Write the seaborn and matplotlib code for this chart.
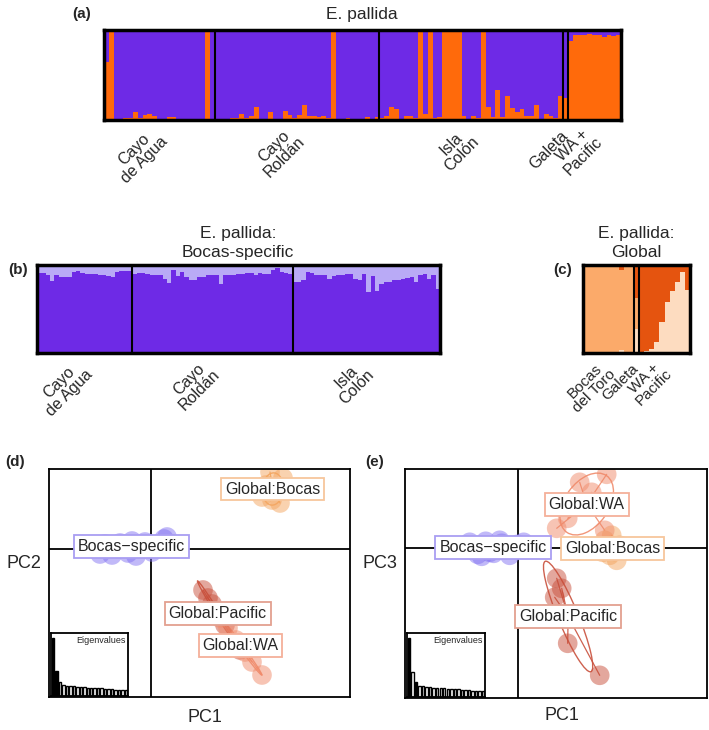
import numpy as np
import pandas as pd
import seaborn as sns
import matplotlib.pyplot as plt
from matplotlib.patches import Ellipse

W, H = 709, 730
sns.set_theme(style='white')
plt.rcParams['font.family'] = ['Liberation Sans', 'DejaVu Sans']

# ---- (a) E. pallida: orange share per individual
agua_a = [0.65, 1.0, 0.0, 0.01, 0.02, 0.02, 0.09, 0.02, 0.06, 0.07, 0.04, 0.01,
          0.01, 0.03, 0.03, 0.01, 0.01, 0.0, 0.01, 0.0, 0.0, 1.0, 0.01]
roldan_a = [0.01, 0.01, 0.0, 0.02, 0.02, 0.065, 0.02, 0.05, 0.15, 0.0, 0.01, 0.09,
            0.0, 0.0, 0.1, 0.06, 0.02, 0.06, 0.17, 0.04, 0.05, 0.03, 0.05, 0.02,
            1.0, 0.01, 0.01, 0.02, 0.0, 0.0, 0.0, 0.03, 0.0, 0.03]
colon_a = [0.02, 0.04, 0.14, 0.12, 0.0, 0.04, 0.04, 0.02, 1.0, 0.07, 1.0, 0.02,
           0.03, 1.0, 1.0, 1.0, 1.0, 0.05, 0.0, 0.05, 0.02, 1.0, 0.15, 0.03,
           0.33, 0.03, 0.27, 0.13, 0.09, 0.12, 0.05, 0.05, 0.17, 0.0, 0.07, 0.05,
           0.02, 0.27]
galeta_a = [0.25]
wapac_a = [0.88, 0.94, 0.95, 0.94, 0.96, 0.95, 0.94, 0.92, 0.94, 0.93, 0.94]
groups_a = ['Cayo\nde Agua', 'Cayo\nRoldán', 'Isla\nColón', 'Galeta', 'WA +\nPacific']

# ---- (b) Bocas-specific: light purple share
agua_b = [0.086, 0.086, 0.118, 0.184, 0.118, 0.137, 0.137, 0.137, 0.078, 0.067, 0.086,
          0.098, 0.106, 0.106, 0.118, 0.118, 0.125, 0.137, 0.078, 0.071, 0.071, 0.071]
roldan_b = [0.098, 0.086, 0.086, 0.098, 0.11, 0.11, 0.11, 0.157, 0.204, 0.059, 0.125,
            0.078, 0.137, 0.176, 0.176, 0.137, 0.137, 0.118, 0.118, 0.118, 0.216, 0.118,
            0.118, 0.11, 0.098, 0.098, 0.086, 0.086, 0.118, 0.09, 0.098, 0.098,
            0.059, 0.03, 0.078, 0.086, 0.098]
colon_b = [0.196, 0.188, 0.176, 0.078, 0.086, 0.11, 0.118, 0.118, 0.157, 0.125, 0.118,
           0.11, 0.098, 0.098, 0.157, 0.165, 0.098, 0.31, 0.125, 0.29, 0.216, 0.196,
           0.196, 0.176, 0.165, 0.157, 0.149, 0.137, 0.196, 0.118, 0.098, 0.157,
           0.118, 0.275]
groups_b = ['Cayo\nde Agua', 'Cayo\nRoldán', 'Isla\nColón']

# ---- (c) Global: pale (bottom) and dark (top) shares, light orange in between
bocas_c_pale = [0, 0, 0, 0, 0, 0, 0, 0.03, 0, 0]
bocas_c_dark = [0, 0, 0, 0, 0, 0, 0, 0.06, 0, 0]
galeta_c_pale = [0.27]
galeta_c_dark = [0.37]
wapac_c_pale = [0.0, 0.02, 0.05, 0.13, 0.35, 0.58, 0.71, 0.81, 0.92, 0.72]
wapac_c_dark = [1.0, 0.98, 0.95, 0.87, 0.65, 0.42, 0.29, 0.19, 0.08, 0.28]
groups_c = ['Bocas\ndel Toro', 'Galeta', 'WA +\nPacific']

# ---- (d) PCA, PC1 vs PC2
d_specific_x = [-0.56, -0.51, -0.46, -0.39, -0.31, -0.23, -0.19, -0.15, -0.06, 0.01, 0.07, 0.13, 0.16]
d_specific_y = [0.02, -0.05, 0.05, -0.06, 0.06, -0.04, 0.08, -0.07, 0.07, -0.03, 0.05, 0.1, 0.12]
d_bocas_x = [1.11, 1.21, 1.29, 1.32, 1.19, 1.26, 1.15]
d_bocas_y = [0.52, 0.49, 0.46, 0.71, 0.77, 0.61, 0.64]
d_pacific_x = [0.52, 0.57, 0.61, 0.74, 0.89]
d_pacific_y = [-0.41, -0.49, -0.55, -0.76, -1.01]
d_wa_x = [0.69, 0.77, 0.85, 0.94, 1.01, 1.11]
d_wa_y = [-0.69, -0.79, -0.91, -1.03, -1.13, -1.26]

# ---- (e) PCA, PC1 vs PC3
e_specific_x = [-0.48, -0.40, -0.32, -0.24, -0.16, -0.08, 0.0, 0.06, -0.28, -0.18, -0.36, -0.53]
e_specific_y = [0.06, -0.06, 0.07, -0.05, 0.05, -0.07, 0.04, 0.06, -0.04, 0.08, -0.08, 0.03]
e_bocas_x = [0.87, 0.94, 1.02, 0.92, 0.99, 0.85, 1.07]
e_bocas_y = [0.08, 0.13, 0.03, -0.07, -0.12, -0.04, -0.02]
e_wa_x = [0.62, 0.89, 0.39, 0.82, 0.74, 0.50, 0.87]
e_wa_y = [0.66, 0.74, 0.20, 0.46, 0.56, 0.30, 0.18]
e_pacific_x = [0.39, 0.44, 0.37, 0.50, 0.82]
e_pacific_y = [-0.30, -0.40, -0.49, -0.95, -1.27]

eigenvalues = [1.0, 0.43, 0.25, 0.19, 0.18, 0.17, 0.165, 0.16, 0.155, 0.15, 0.145,
               0.14, 0.135, 0.13, 0.13, 0.125, 0.12, 0.115, 0.11, 0.11, 0.105, 0.1]

purple = '#6E2AE6'
lavender = '#B9AAF6'
orange = '#FF6A0B'
c_dark, c_light, c_pale = '#E5540F', '#FBAA6A', '#FDDCC0'

fig = plt.figure(figsize=(W / 100, H / 100), dpi=100)


def px_axes(x0, y0, x1, y1):
    return fig.add_axes([x0 / W, 1 - y1 / H, (x1 - x0) / W, (y1 - y0) / H])


def ftext(x, y, s, **kw):
    fig.text(x / W, 1 - y / H, s, **kw)


def structure(ax, layers, colors, sizes, labels, fs=11.5):
    n = len(layers[0])
    idx = np.arange(n)
    for vals, col in zip(layers, colors):
        sns.barplot(x=idx, y=vals, color=col, width=1, saturation=1,
                    linewidth=0, errorbar=None, ax=ax)
    bounds = np.cumsum(sizes)
    for b in bounds[:-1]:
        ax.axvline(b - 0.5, color='black', lw=1.5)
    starts = np.concatenate([[0], bounds[:-1]])
    centers = starts + np.array(sizes) / 2 - 0.5
    ax.set_xlim(-0.5, n - 0.5)
    ax.set_ylim(0, 1)
    ax.set_yticks([])
    ax.set_ylabel('')
    ax.set_xticks(centers)
    ax.set_xticklabels(labels, rotation=45, ha='right', va='center',
                       rotation_mode='anchor', multialignment='center', fontsize=fs,
                       linespacing=0.95)
    ax.tick_params(axis='x', length=0, pad=10)
    for sp in ax.spines.values():
        sp.set_visible(True)
        sp.set_color('black')
        sp.set_linewidth(2.5)


# (a)
ax_a = px_axes(104, 30, 621, 120)
orange_a = np.array(agua_a + roldan_a + colon_a + galeta_a + wapac_a)
sizes_a = [len(agua_a), len(roldan_a), len(colon_a), len(galeta_a), len(wapac_a)]
structure(ax_a, [np.ones(len(orange_a)), orange_a], [purple, orange], sizes_a, groups_a)
ftext(362, 14, 'E. pallida', ha='center', va='center', fontsize=12.5)
ftext(82, 14, '(a)', ha='center', va='center', fontsize=11, fontweight='bold')

# (b)
ax_b = px_axes(37, 265, 440, 353)
lav_b = np.array(agua_b + roldan_b + colon_b)
sizes_b = [len(agua_b), len(roldan_b), len(colon_b)]
structure(ax_b, [np.ones(len(lav_b)), 1 - lav_b], [lavender, purple], sizes_b, groups_b)
ftext(238, 243, 'E. pallida:\nBocas-specific', ha='center', va='center', fontsize=12.5,
      linespacing=1.3)
ftext(18, 270, '(b)', ha='center', va='center', fontsize=11, fontweight='bold')

# (c)
ax_c = px_axes(583, 265, 690, 353)
pale_c = np.array(bocas_c_pale + galeta_c_pale + wapac_c_pale)
dark_c = np.array(bocas_c_dark + galeta_c_dark + wapac_c_dark)
sizes_c = [len(bocas_c_pale), len(galeta_c_pale), len(wapac_c_pale)]
structure(ax_c, [np.ones(len(pale_c)), 1 - dark_c, pale_c], [c_dark, c_light, c_pale],
          sizes_c, groups_c, fs=11)
ftext(636, 243, 'E. pallida:\nGlobal', ha='center', va='center', fontsize=12.5,
      linespacing=1.3)
ftext(563, 270, '(c)', ha='center', va='center', fontsize=11, fontweight='bold')


def pca_panel(ax, groups, xlim, ylim):
    ax.axhline(0, color='black', lw=1.3, zorder=0.5)
    ax.axvline(0, color='black', lw=1.3, zorder=0.5)
    for name, xs, ys, col, edge in groups:
        xs, ys = np.array(xs), np.array(ys)
        cx, cy = xs.mean(), ys.mean()
        cov = np.cov(xs, ys, bias=True)
        vals, vecs = np.linalg.eigh(cov)
        ang = np.degrees(np.arctan2(vecs[1, 1], vecs[0, 1]))
        ax.add_patch(Ellipse((cx, cy), 2 * 1.5 * np.sqrt(vals[1]),
                             max(2 * 1.5 * np.sqrt(vals[0]), 0.04),
                             angle=ang, fill=False, ec=col, lw=1, alpha=0.9, zorder=1))
        for x, y in zip(xs, ys):
            ax.plot([cx, x], [cy, y], color=col, lw=0.9, alpha=0.9, zorder=1)
        sns.scatterplot(x=xs, y=ys, color=col, s=200, alpha=0.5, edgecolor='none',
                        ax=ax, zorder=2)
    for name, xs, ys, col, edge in groups:
        ax.text(np.mean(xs), np.mean(ys), name, ha='center', va='center', fontsize=11.5,
                zorder=5, bbox=dict(boxstyle='square,pad=0.25', fc='white', ec=edge, lw=1.3))
    ax.set_xlim(*xlim)
    ax.set_ylim(*ylim)
    ax.set_xticks([])
    ax.set_yticks([])
    for sp in ax.spines.values():
        sp.set_visible(True)
        sp.set_color('black')
        sp.set_linewidth(1.3)


def eig_inset(rect, selected):
    ax = px_axes(*rect)
    idx = np.arange(len(eigenvalues))
    hue = [str(i) for i in idx]
    pal = {str(i): ('black' if i in selected else 'white') for i in idx}
    sns.barplot(x=idx, y=eigenvalues, hue=hue, palette=pal, legend=False, width=0.7,
                saturation=1, edgecolor='black', linewidth=1.0, errorbar=None, ax=ax)
    ax.set_xlim(-0.6, len(eigenvalues) - 0.4)
    ax.set_ylim(0, 1.09)
    ax.set_xticks([])
    ax.set_yticks([])
    ax.set_xlabel('')
    ax.set_ylabel('')
    ax.text(0.97, 0.96, 'Eigenvalues', transform=ax.transAxes, ha='right', va='top',
            fontsize=6.5)
    for sp in ax.spines.values():
        sp.set_visible(True)
        sp.set_color('black')
        sp.set_linewidth(1.3)


col_spec, edge_spec = '#8474F2', '#A99EF2'
col_bocas, edge_bocas = '#F4A660', '#F7C69C'
col_pac, edge_pac = '#C9503C', '#E3A090'
col_wa, edge_wa = '#F08B6B', '#F4B09A'

# (d)
ax_d = px_axes(49, 469, 350, 697)
pca_panel(ax_d, [
    ('Bocas\u2212specific', d_specific_x, d_specific_y, col_spec, edge_spec),
    ('Global:Bocas', d_bocas_x, d_bocas_y, col_bocas, edge_bocas),
    ('Global:Pacific', d_pacific_x, d_pacific_y, col_pac, edge_pac),
    ('Global:WA', d_wa_x, d_wa_y, col_wa, edge_wa),
], (-1.02, 1.99), (-1.48, 0.80))
eig_inset((51, 633, 128, 696), [0, 1])
ftext(24, 563, 'PC2', ha='center', va='center', fontsize=13)
ftext(205, 717, 'PC1', ha='center', va='center', fontsize=13)
ftext(15, 462, '(d)', ha='center', va='center', fontsize=11, fontweight='bold')

# (e)
ax_e = px_axes(405, 469, 707, 698)
pca_panel(ax_e, [
    ('Bocas\u2212specific', e_specific_x, e_specific_y, col_spec, edge_spec),
    ('Global:Bocas', e_bocas_x, e_bocas_y, col_bocas, edge_bocas),
    ('Global:Pacific', e_pacific_x, e_pacific_y, col_pac, edge_pac),
    ('Global:WA', e_wa_x, e_wa_y, col_wa, edge_wa),
], (-1.127, 1.893), (-1.497, 0.793))
eig_inset((407, 633, 485, 697), [0, 2])
ftext(380, 563, 'PC3', ha='center', va='center', fontsize=13)
ftext(562, 716, 'PC1', ha='center', va='center', fontsize=13)
ftext(375, 462, '(e)', ha='center', va='center', fontsize=11, fontweight='bold')

fig.savefig('out.png', dpi=100)
